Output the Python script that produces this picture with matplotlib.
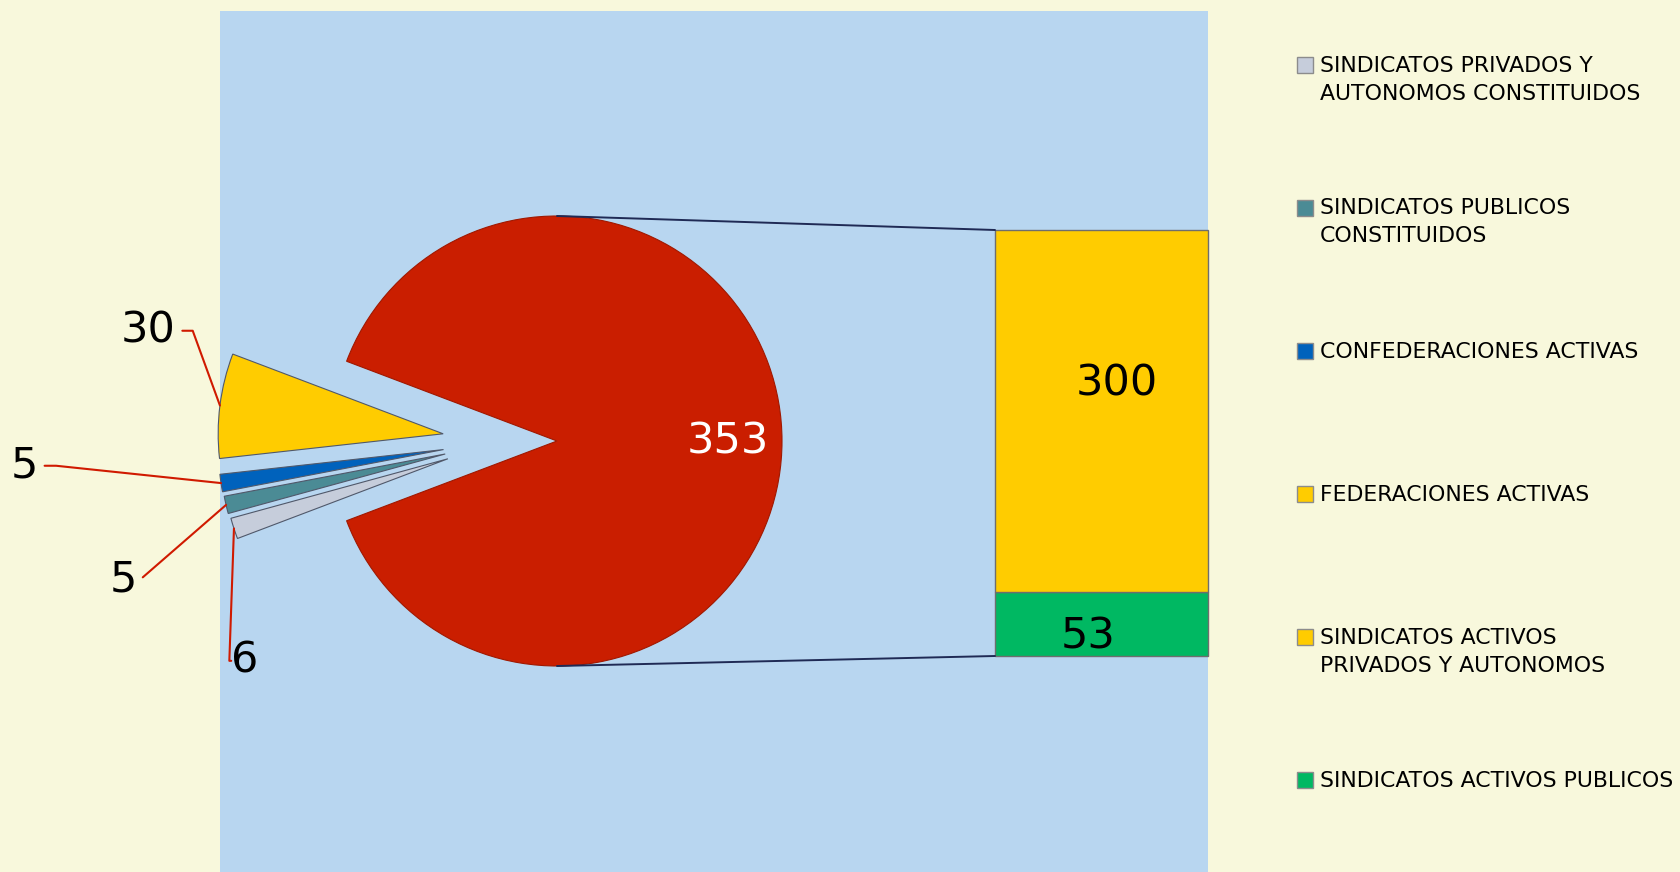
import numpy as np
import matplotlib.pyplot as plt
from matplotlib.patches import Rectangle, ConnectionPatch

# bar of pie: the first pie slice is broken down in the stacked bar
bar_names = ["SINDICATOS ACTIVOS PUBLICOS", "SINDICATOS ACTIVOS PRIVADOS Y AUTONOMOS"]
bar_values = [53, 300]
pie_names = ["OTROS", "FEDERACIONES ACTIVAS", "CONFEDERACIONES ACTIVAS",
             "SINDICATOS PUBLICOS CONSTITUIDOS",
             "SINDICATOS PRIVADOS Y AUTONOMOS CONSTITUIDOS"]
pie_values = [sum(bar_values), 30, 5, 5, 6]

legend_labels = ["SINDICATOS PRIVADOS Y\nAUTONOMOS CONSTITUIDOS",
                 "SINDICATOS PUBLICOS\nCONSTITUIDOS",
                 "CONFEDERACIONES ACTIVAS",
                 "FEDERACIONES ACTIVAS",
                 "SINDICATOS ACTIVOS\nPRIVADOS Y AUTONOMOS",
                 "SINDICATOS ACTIVOS PUBLICOS"]

pie_colors = ["#CA1E00", "#FFCC00", "#0062BC", "#4B8B95", "#C6CDDB"]
bar_colors = ["#00B862", "#FFCC00"]
legend_colors = ["#C6CDDB", "#4B8B95", "#0062BC", "#FFCC00", "#FFCC00", "#00B862"]

W, H = 1680, 872
fig = plt.figure(figsize=(W / 100, H / 100), dpi=100, facecolor="#F8F8DC")

# plot area background
bg = fig.add_axes([220 / W, 0, 988 / W, 861 / H], facecolor="#B8D6F0")
bg.set_xticks([])
bg.set_yticks([])
for s in bg.spines.values():
    s.set_visible(False)

# pie axes covers the whole figure, 1 unit = pie radius (225 px)
ax = fig.add_axes([0, 0, 1, 1])
ax.set_facecolor("none")
start = -pie_values[0] / sum(pie_values) * 180
wedges, _ = ax.pie(pie_values, colors=pie_colors, startangle=start,
                   wedgeprops=dict(edgecolor="#50586A", linewidth=0.8))
wedges[0].set_edgecolor("#A01800")

# pull the small slices out to the left
pull = 0.51
for w in wedges[1:]:
    mid = np.radians((w.theta1 + w.theta2) / 2)
    w.set_center((pull * np.cos(mid), 0.5 * pull * np.sin(mid)))

ax.set_xlim(-557 / 225, (W - 557) / 225)
ax.set_ylim(-(H - 441) / 225, 441 / 225)
ax.axis("off")

# value of the big slice
mid0 = np.radians((wedges[0].theta1 + wedges[0].theta2) / 2)
ax.text(0.76 * np.cos(mid0), 0.76 * np.sin(mid0), str(pie_values[0]),
        color="white", fontsize=31, ha="center", va="center")

# labels with leader lines for the small slices
label_pos = [(-1.818, 0.49), (-2.369, -0.11), (-1.929, -0.617), (-1.387, -0.977)]
leader_angle = [110, 174, 41, 88]
leader_side = [1, 1, 1, 0]
for w, val, pos, ang, side in zip(wedges[1:], pie_values[1:], label_pos,
                                  leader_angle, leader_side):
    mid = np.radians((w.theta1 + w.theta2) / 2)
    cx, cy = w.center
    tip = (cx + w.r * np.cos(mid), cy + w.r * np.sin(mid))
    props = dict(arrowstyle="-", color="#D01A00", lw=1.5, relpos=(side, 0.5),
                 connectionstyle=f"angle,angleA=0,angleB={ang},rad=0",
                 shrinkA=3, shrinkB=0)
    if side == 0:
        props["patchA"] = None
        props["shrinkA"] = 0
    ax.annotate(str(val), xy=tip, xytext=pos, fontsize=31, ha="center", va="center",
                arrowprops=props)

# stacked bar
axb = fig.add_axes([995 / W, 216 / H, 212.5 / W, 426 / H])
bottoms = np.cumsum([0] + bar_values[:-1])
bars = axb.bar([0] * len(bar_values), bar_values, bottom=bottoms, width=1,
               color=bar_colors, edgecolor="#6E6E6E", linewidth=1, clip_on=False)
axb.set_xlim(-0.5, 0.5)
axb.set_ylim(0, sum(bar_values))
axb.axis("off")

label_shift = [(-0.06, 0.31), (0.075, 0.576)]
for rect, val, (dx, fy) in zip(bars, bar_values, label_shift):
    axb.text(rect.get_x() + rect.get_width() / 2 + dx,
             rect.get_y() + fy * rect.get_height(), str(val),
             fontsize=31, ha="center", va="center", color="black")

# lines joining the big slice to the bar
for yp, yb in [(1, sum(bar_values)), (-1, 0)]:
    con = ConnectionPatch(xyA=(0, yp), coordsA=ax.transData,
                          xyB=(-0.5, yb), coordsB=axb.transData,
                          color="#1F2A55", lw=1.4)
    fig.add_artist(con)

# legend drawn by hand so the square sits on the first text line
for i, (lab, col) in enumerate(zip(legend_labels, legend_colors)):
    yt = 55.5 + 143 * i
    fig.text(1320 / W, 1 - yt / H, lab, fontsize=15.8, ha="left", va="top",
             linespacing=1.5, color="black")
    fig.add_artist(Rectangle((1297 / W, 1 - (yt + 17.5) / H), 16 / W, 16 / H,
                             transform=fig.transFigure, facecolor=col,
                             edgecolor="#8C8C8C", lw=1))

fig.savefig("out.png", dpi=100, facecolor=fig.get_facecolor())
